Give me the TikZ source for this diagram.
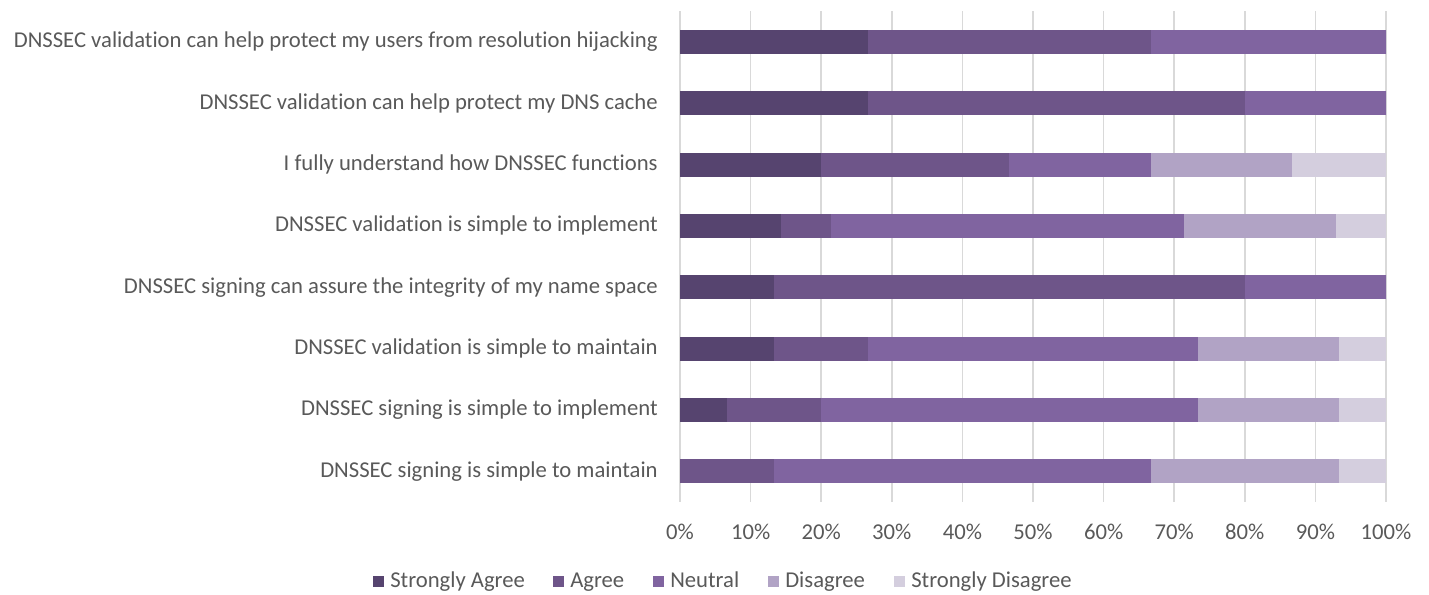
\documentclass[tikz,border=0pt]{standalone}
\usepackage{fontspec}
\setmainfont{Carlito}[Ligatures=NoCommon]
\definecolor{sagree}{HTML}{56446F}
\definecolor{agree}{HTML}{6E5589}
\definecolor{neutral}{HTML}{8064A0}
\definecolor{disagree}{HTML}{B1A3C5}
\definecolor{sdisagree}{HTML}{D4CEDE}
\definecolor{gridgray}{HTML}{D9D9D9}
\definecolor{txtgray}{HTML}{595959}
\begin{document}
\begin{tikzpicture}[x=0.75pt,y=-0.75pt,font=\fontsize{17}{20}\selectfont,text=txtgray,
  lbl/.style={anchor=east,inner sep=0pt},
  key/.style={anchor=base west,inner sep=0pt}]
  \useasboundingbox (0,0) rectangle (1429,594);
  % grid and axis ticks
  \foreach \p in {0,10,...,100}{
    \draw[gridgray,line width=1.2pt] ({680+7.06*\p},11) -- ({680+7.06*\p},502);
    \node (t\p) at ({680+7.06*\p},532) {\p\%};}
  % stacked bars: ends of SA, A, N, D (SD runs to 100)
  \foreach \a/\b/\c/\d [count=\i from 0] in {26.67/66.67/100/100,26.67/80/100/100,
      20/46.67/66.67/86.67,14.29/21.43/71.43/92.86,13.33/80/100/100,
      13.33/26.67/73.33/93.33,6.67/20/73.33/93.33,0/13.33/66.67/93.33}{
    \pgfmathsetmacro\yc{42+61.3*\i}
    \fill[sagree] (680,{\yc-12}) rectangle ({680+7.06*\a},{\yc+12});
    \fill[agree] ({680+7.06*\a},{\yc-12}) rectangle ({680+7.06*\b},{\yc+12});
    \fill[neutral] ({680+7.06*\b},{\yc-12}) rectangle ({680+7.06*\c},{\yc+12});
    \fill[disagree] ({680+7.06*\c},{\yc-12}) rectangle ({680+7.06*\d},{\yc+12});
    \fill[sdisagree] ({680+7.06*\d},{\yc-12}) rectangle (1386,{\yc+12});}
  % category labels
  \foreach \t [count=\i from 0] in {DNSSEC validation can help protect my users from resolution hijacking,
      DNSSEC validation can help protect my DNS cache,I fully understand how DNSSEC functions,
      DNSSEC validation is simple to implement,DNSSEC signing can assure the integrity of my name space,
      DNSSEC validation is simple to maintain,DNSSEC signing is simple to implement,
      DNSSEC signing is simple to maintain}
    \node[lbl] (l\i) at (658,{42+61.3*\i}) {\t};
  % legend
  \foreach \x/\c/\t [count=\k] in {373/sagree/Strongly Agree,553/agree/Agree,653/neutral/Neutral,
      768/disagree/Disagree,894/sdisagree/Strongly Disagree}{
    \fill[\c] (\x,576) rectangle (\x+11,587);
    \node[key] (k\k) at (\x+17,587.5) {\t};}
\end{tikzpicture}
\end{document}
